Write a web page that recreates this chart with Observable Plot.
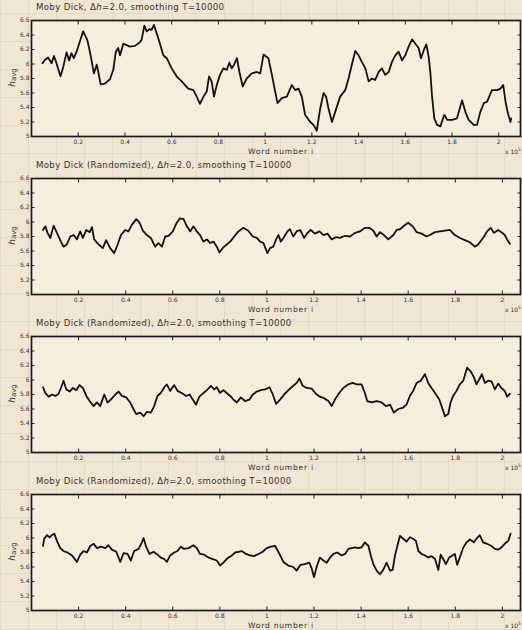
<!DOCTYPE html>
<html>
<head>
<meta charset="utf-8">
<script src="https://cdn.jsdelivr.net/npm/d3@7"></script>
<script src="https://cdn.jsdelivr.net/npm/@observablehq/plot@0.6"></script>
<style>
  html, body { margin: 0; padding: 0; }
  body {
    width: 522px; height: 630px; overflow: hidden;
    background-color: #efe6d3;
    background-image:
      repeating-linear-gradient(0deg, rgba(160,140,110,0.13) 0 1px, transparent 1px 28px),
      repeating-linear-gradient(90deg, rgba(160,140,110,0.13) 0 1px, transparent 1px 28px);
    font-family: "DejaVu Sans", sans-serif;
  }
  #wrap { position: relative; width: 522px; height: 630px; }
  .panel { position: absolute; left: 0; width: 522px; height: 158px; }
  .title { position: absolute; left: 36px; top: 2px; font-size: 8.6px; color: #333; letter-spacing: 0.35px; white-space: nowrap; }
  .ylab { position: absolute; left: 3px; top: 72px; font-size: 9px; color: #333; transform: rotate(-90deg); transform-origin: center; white-space: nowrap; }
  .ylab sub { font-size: 7px; vertical-align: -1px; }
  .xlab { position: absolute; left: 248px; top: 147.5px; font-size: 7.6px; line-height: 8px; color: #333; letter-spacing: 0.75px; white-space: nowrap; }
  .xexp { position: absolute; left: 505px; top: 146px; font-size: 6px; line-height: 7px; color: #333; white-space: nowrap; }
  .xexp sup { font-size: 4.5px; }
</style>
</head>
<body>
<div id="wrap"></div>
<script>
// ---- tick labels ----
const xTicks = [0.2, 0.4, 0.6, 0.8, 1.0, 1.2, 1.4, 1.6, 1.8, 2.0];
const yTicks = [5.0, 5.2, 5.4, 5.6, 5.8, 6.0, 6.2, 6.4, 6.6];

const titles = [
  "Moby Dick",
  "Moby Dick (Randomized)",
  "Moby Dick (Randomized)",
  "Moby Dick (Randomized)"
];

// ---- Panel 1: Moby Dick (word number in units of 10^5) ----
const mobyX = [0.047,0.057,0.071,0.086,0.096,0.104,0.124,0.136,0.150,0.161,0.171,0.181,0.193,0.207,0.221,0.239,0.253,0.267,0.279,0.286,0.296,0.314,0.336,0.350,0.361,0.371,0.379,0.393,0.407,0.421,0.443,0.464,0.471,0.483,0.493,0.504,0.514,0.524,0.536,0.550,0.564,0.579,0.600,0.621,0.643,0.657,0.671,0.693,0.707,0.721,0.736,0.750,0.760,0.771,0.781,0.793,0.807,0.821,0.836,0.847,0.857,0.867,0.879,0.890,0.904,0.921,0.943,0.964,0.979,0.993,1.014,1.029,1.043,1.053,1.071,1.093,1.114,1.129,1.143,1.157,1.171,1.193,1.207,1.221,1.236,1.250,1.261,1.271,1.286,1.300,1.321,1.343,1.357,1.371,1.386,1.400,1.414,1.429,1.443,1.457,1.471,1.486,1.500,1.514,1.529,1.543,1.557,1.571,1.586,1.600,1.614,1.629,1.643,1.657,1.667,1.679,1.690,1.700,1.707,1.714,1.724,1.736,1.750,1.767,1.779,1.800,1.821,1.843,1.857,1.871,1.893,1.907,1.921,1.936,1.950,1.971,1.993,2.007,2.019,2.029,2.039,2.050,2.053];
const mobyH = [6.01,6.055,6.09,6.01,6.11,6.04,5.83,5.96,6.16,6.05,6.15,6.08,6.17,6.31,6.45,6.33,6.12,5.87,5.99,5.89,5.72,5.73,5.79,5.92,6.17,6.22,6.12,6.28,6.26,6.24,6.25,6.30,6.33,6.53,6.45,6.48,6.47,6.54,6.42,6.28,6.12,6.08,5.94,5.83,5.76,5.71,5.66,5.64,5.55,5.45,5.55,5.62,5.83,5.76,5.55,5.71,5.85,5.94,5.92,6.02,5.94,5.99,6.08,5.89,5.69,5.80,5.87,5.89,5.87,6.13,6.08,5.85,5.62,5.46,5.53,5.55,5.71,5.64,5.66,5.55,5.30,5.20,5.16,5.08,5.39,5.60,5.55,5.39,5.20,5.34,5.55,5.64,5.80,5.99,6.18,6.12,6.03,5.94,5.76,5.80,5.78,5.89,5.94,5.85,5.89,6.03,6.12,6.17,6.05,6.12,6.24,6.34,6.28,6.22,6.08,6.19,6.27,6.10,5.89,5.57,5.25,5.16,5.14,5.30,5.23,5.23,5.25,5.50,5.34,5.23,5.16,5.16,5.34,5.46,5.48,5.64,5.64,5.66,5.71,5.48,5.32,5.20,5.25];

// ---- Panel 2: randomized #1 ----
const randAX = [0.049,0.059,0.068,0.080,0.094,0.108,0.125,0.136,0.150,0.165,0.179,0.193,0.207,0.218,0.233,0.247,0.257,0.266,0.285,0.303,0.317,0.334,0.351,0.366,0.380,0.398,0.412,0.426,0.445,0.459,0.473,0.490,0.507,0.525,0.539,0.554,0.568,0.582,0.600,0.617,0.631,0.646,0.660,0.674,0.688,0.702,0.716,0.730,0.745,0.759,0.773,0.787,0.798,0.812,0.829,0.844,0.861,0.879,0.900,0.921,0.940,0.957,0.971,0.985,1.002,1.013,1.027,1.039,1.049,1.059,1.070,1.087,1.098,1.112,1.126,1.141,1.158,1.172,1.186,1.204,1.223,1.240,1.257,1.275,1.293,1.310,1.332,1.353,1.374,1.395,1.416,1.435,1.452,1.466,1.480,1.497,1.515,1.537,1.551,1.565,1.579,1.600,1.619,1.636,1.657,1.678,1.692,1.714,1.735,1.756,1.777,1.798,1.820,1.841,1.862,1.883,1.897,1.918,1.935,1.950,1.964,1.982,1.996,2.010,2.020,2.032];
const randAH = [5.89,5.94,5.85,5.78,5.95,5.85,5.73,5.66,5.69,5.80,5.82,5.76,5.87,5.78,5.89,5.86,5.93,5.76,5.69,5.64,5.75,5.64,5.57,5.69,5.82,5.89,5.87,5.96,6.04,5.99,5.88,5.82,5.78,5.66,5.71,5.66,5.80,5.81,5.87,5.99,6.05,6.04,5.94,5.87,5.94,5.87,5.82,5.73,5.76,5.71,5.73,5.66,5.58,5.64,5.69,5.73,5.80,5.87,5.92,5.88,5.80,5.78,5.73,5.71,5.57,5.64,5.66,5.76,5.82,5.73,5.78,5.87,5.90,5.80,5.87,5.89,5.78,5.85,5.89,5.84,5.87,5.82,5.84,5.76,5.79,5.78,5.81,5.80,5.85,5.87,5.92,5.92,5.88,5.80,5.86,5.82,5.76,5.82,5.89,5.90,5.94,5.99,5.94,5.86,5.84,5.80,5.82,5.86,5.87,5.88,5.89,5.82,5.78,5.75,5.72,5.66,5.69,5.78,5.87,5.92,5.85,5.89,5.86,5.82,5.76,5.70];

// ---- Panel 3: randomized #2 ----
const randBX = [0.049,0.059,0.073,0.087,0.101,0.115,0.125,0.136,0.148,0.162,0.176,0.190,0.204,0.218,0.233,0.247,0.264,0.278,0.292,0.309,0.323,0.337,0.356,0.370,0.384,0.402,0.419,0.433,0.445,0.462,0.476,0.490,0.507,0.521,0.535,0.549,0.564,0.575,0.589,0.606,0.620,0.638,0.657,0.671,0.685,0.699,0.713,0.730,0.745,0.762,0.776,0.787,0.801,0.815,0.829,0.844,0.858,0.872,0.889,0.907,0.926,0.940,0.957,0.974,0.992,1.011,1.025,1.039,1.056,1.073,1.091,1.112,1.126,1.138,1.152,1.169,1.190,1.208,1.225,1.242,1.261,1.275,1.289,1.307,1.324,1.346,1.364,1.381,1.402,1.416,1.426,1.445,1.466,1.487,1.506,1.523,1.539,1.558,1.579,1.593,1.607,1.621,1.636,1.653,1.671,1.685,1.699,1.714,1.732,1.746,1.756,1.770,1.780,1.791,1.805,1.819,1.834,1.850,1.865,1.879,1.890,1.902,1.913,1.926,1.940,1.954,1.968,1.982,1.996,2.010,2.020,2.032];
const randBH = [5.90,5.82,5.77,5.80,5.78,5.81,5.89,5.99,5.87,5.84,5.89,5.86,5.93,5.89,5.78,5.71,5.64,5.69,5.64,5.80,5.69,5.73,5.80,5.84,5.78,5.76,5.69,5.60,5.53,5.55,5.50,5.56,5.55,5.64,5.78,5.82,5.90,5.94,5.85,5.93,5.85,5.82,5.78,5.80,5.73,5.66,5.77,5.82,5.86,5.92,5.87,5.90,5.82,5.86,5.82,5.78,5.73,5.69,5.76,5.71,5.73,5.80,5.84,5.86,5.87,5.90,5.80,5.67,5.73,5.80,5.86,5.92,5.96,6.02,5.92,5.89,5.88,5.81,5.77,5.75,5.71,5.64,5.73,5.82,5.89,5.94,5.96,5.94,5.94,5.82,5.71,5.69,5.71,5.69,5.64,5.66,5.55,5.60,5.62,5.66,5.78,5.85,5.96,5.99,6.08,5.96,5.89,5.82,5.73,5.60,5.50,5.53,5.69,5.78,5.85,5.94,5.99,6.17,6.12,6.04,5.94,6.01,6.08,5.96,5.99,5.98,5.87,5.95,5.89,5.85,5.77,5.81];

// ---- Panel 4: randomized #3 ----
const randCX = [0.049,0.054,0.066,0.077,0.087,0.097,0.108,0.122,0.136,0.153,0.172,0.193,0.207,0.221,0.235,0.250,0.264,0.278,0.295,0.313,0.327,0.341,0.360,0.377,0.391,0.408,0.422,0.436,0.455,0.469,0.476,0.487,0.501,0.518,0.532,0.549,0.564,0.575,0.589,0.606,0.620,0.634,0.648,0.667,0.688,0.702,0.716,0.733,0.752,0.770,0.787,0.801,0.815,0.832,0.851,0.865,0.879,0.893,0.911,0.928,0.945,0.964,0.982,0.999,1.016,1.035,1.053,1.070,1.091,1.112,1.126,1.143,1.162,1.180,1.190,1.200,1.211,1.225,1.240,1.254,1.268,1.282,1.299,1.317,1.332,1.346,1.360,1.374,1.388,1.402,1.416,1.431,1.441,1.452,1.466,1.480,1.494,1.508,1.523,1.534,1.544,1.554,1.565,1.579,1.593,1.607,1.621,1.633,1.643,1.657,1.671,1.685,1.699,1.714,1.728,1.738,1.749,1.760,1.774,1.788,1.798,1.808,1.819,1.834,1.848,1.862,1.879,1.890,1.904,1.918,1.935,1.954,1.968,1.982,1.996,2.010,2.025,2.035];
const randCH = [5.89,5.99,6.04,6.01,6.04,6.06,5.96,5.86,5.82,5.80,5.76,5.67,5.77,5.82,5.80,5.89,5.92,5.86,5.88,5.86,5.90,5.84,5.81,5.67,5.79,5.78,5.69,5.82,5.85,5.94,6.00,5.88,5.78,5.81,5.78,5.73,5.71,5.67,5.76,5.80,5.82,5.88,5.85,5.86,5.90,5.86,5.78,5.77,5.73,5.71,5.69,5.62,5.66,5.72,5.76,5.80,5.81,5.82,5.78,5.76,5.75,5.78,5.81,5.86,5.88,5.89,5.78,5.67,5.62,5.60,5.55,5.63,5.64,5.66,5.58,5.46,5.60,5.73,5.69,5.66,5.73,5.78,5.80,5.76,5.78,5.85,5.86,5.87,5.86,5.87,5.94,5.89,5.76,5.64,5.55,5.50,5.56,5.66,5.55,5.56,5.76,5.89,6.03,5.99,5.95,6.01,5.99,5.96,5.82,5.78,5.76,5.73,5.75,5.71,5.56,5.77,5.71,5.64,5.73,5.76,5.78,5.63,5.73,5.87,5.94,5.98,5.94,5.99,6.04,5.94,5.92,5.89,5.85,5.84,5.87,5.92,5.96,6.06];

const panels = [
  {xs: mobyX, hs: mobyH, xmax: 2.093},
  {xs: randAX, hs: randAH, xmax: 2.077},
  {xs: randBX, hs: randBH, xmax: 2.077},
  {xs: randCX, hs: randCH, xmax: 2.077}
];

const fmt = d => String(+d.toFixed(1));
const wrap = document.getElementById("wrap");
const tickColor = "#222";

panels.forEach((p, i) => {
  const data = p.xs.map((x, k) => ({x, h: p.hs[k]}));
  const chart = Plot.plot({
    width: 522, height: 158,
    marginLeft: 31, marginRight: 2, marginTop: 20, marginBottom: 22,
    style: {background: "transparent", fontFamily: "DejaVu Sans, sans-serif", fontSize: "6px", color: "#333"},
    x: {domain: [0, p.xmax], label: null},
    y: {domain: [5, 6.6], label: null},
    marks: [
      Plot.frame({fill: "#f8f0e0", fillOpacity: 0.75, stroke: "none"}),
      Plot.axisX({anchor: "bottom", ticks: xTicks, tickSize: 0, tickPadding: 3, tickFormat: fmt, label: null}),
      Plot.axisX({anchor: "bottom", ticks: xTicks, tickSize: -3.5, text: null, label: null, stroke: tickColor}),
      Plot.axisX({anchor: "top", ticks: xTicks, tickSize: -3.5, text: null, label: null, stroke: tickColor}),
      Plot.axisY({anchor: "left", ticks: yTicks, tickSize: 0, tickPadding: 2, tickFormat: fmt, label: null}),
      Plot.axisY({anchor: "left", ticks: yTicks, tickSize: -3.5, text: null, label: null, stroke: tickColor}),
      Plot.axisY({anchor: "right", ticks: yTicks, tickSize: -3.5, text: null, label: null, stroke: tickColor}),
      Plot.line(data, {x: "x", y: "h", stroke: "#111", strokeWidth: 1.8, strokeLinejoin: "round"}),
      Plot.frame({stroke: "#1a1a1a", strokeWidth: 1.7})
    ]
  });
  const div = document.createElement("div");
  div.className = "panel";
  div.style.top = (158 * i) + "px";
  chart.style.position = "absolute";
  chart.style.left = "0px";
  chart.style.top = "0px";
  div.appendChild(chart);
  const t = document.createElement("div");
  t.className = "title";
  t.innerHTML = titles[i] + ", &Delta;<i>h</i>=2.0, smoothing T=10000";
  div.appendChild(t);
  const yl = document.createElement("div");
  yl.className = "ylab";
  yl.innerHTML = "<i>h</i><sub>avg</sub>";
  div.appendChild(yl);
  const xl = document.createElement("div");
  xl.className = "xlab";
  xl.textContent = "Word number i";
  div.appendChild(xl);
  const xe = document.createElement("div");
  xe.className = "xexp";
  xe.innerHTML = "x 10<sup>5</sup>";
  div.appendChild(xe);
  wrap.appendChild(div);
});
</script>
</body>
</html>
